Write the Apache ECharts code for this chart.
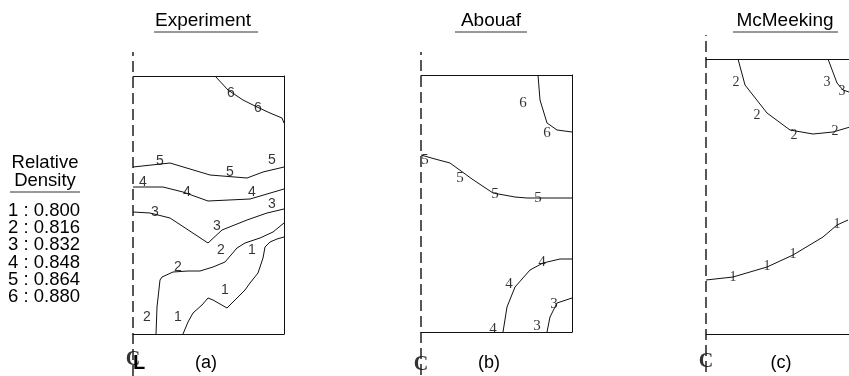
<!DOCTYPE html>
<html>
<head>
<meta charset="utf-8">
<script src="https://cdn.jsdelivr.net/npm/echarts@6/dist/echarts.min.js"></script>
<style>
  html, body { margin: 0; padding: 0; background: #fff; }
  #main { width: 849px; height: 376px; }
</style>
</head>
<body>
<div id="main"></div>
<script>
// legend: contour level -> relative density
const levels = [1, 2, 3, 4, 5, 6];
const densities = ["0.800", "0.816", "0.832", "0.848", "0.864", "0.880"];
const panelTitles = ["Experiment", "Abouaf", "McMeeking"];
const panelTags = ["(a)", "(b)", "(c)"];

// (a) Experiment — x from centre line, y from bottom of compact
const expC1 = [[50,0],[55,12],[60,21],[69,29],[75,36],[80,34],[94,26],[104,36],[112,44],[117,51],[125,61],[130,76],[132,87],[137,92],[144,95],[151,97]];
const expC2 = [[23,0],[24,27],[27,54],[29,57],[40,62],[55,63],[67,63],[80,67],[92,72],[104,86],[112,91],[127,96],[140,102],[151,111]];
const expC3 = [[0,122],[17,121],[37,116],[75,91],[89,104],[114,114],[134,121],[151,125]];
const expC4 = [[0,147],[30,147],[50,142],[75,133],[117,135],[151,145]];
const expC5 = [[0,167],[37,171],[77,159],[114,156],[130,162],[151,167]];
const expC6 = [[82,258],[95,244],[110,234],[124,227],[137,221],[149,216],[151,211]];
const expLabels = [[45,17,1],[92,44,1],[119,84,1],[14,17,2],[45,67,2],[88,84,2],
  [22,122,3],[84,108,3],[139,130,3],[10,152,4],[54,142,4],[119,142,4],
  [27,173,5],[97,162,5],[139,174,5],[98,241,6],[125,226,6]];

// (b) Abouaf
const abC3 = [[126,0],[129,15],[136,29],[151,34]];
const abC4 = [[82,0],[86,25],[94,45],[109,62],[122,69],[139,73],[151,73]];
const abC5 = [[0,177],[14,173],[29,169],[51,153],[72,139],[94,135],[106,134],[151,134]];
const abC6 = [[117,257],[119,232],[126,209],[136,202],[151,200]];
const abLabels = [[116,6,3],[133,28,3],[72,3,4],[88,48,4],[121,70,4],
  [4,172,5],[39,154,5],[74,138,5],[117,134,5],[102,229,6],[126,199,6]];

// (c) McMeeking
const mcC1 = [[0,54],[27,57],[61,67],[87,79],[117,97],[131,109],[142,114]];
const mcC2 = [[32,275],[39,249],[61,221],[84,204],[107,200],[127,202],[144,207]];
const mcC3 = [[122,275],[131,251],[137,244],[146,241]];
const mcLabels = [[27,57,1],[61,68,1],[87,80,1],[131,110,1],
  [30,252,2],[51,219,2],[88,199,2],[129,203,2],[121,252,3],[136,243,3]];

const panels = [
  { grid: { left: 133, top: 76, width: 151, height: 258 }, w: 151, h: 258, right: true,
    lines: [expC1, expC2, expC3, expC4, expC5, expC6], labels: expLabels,
    font: "Liberation Sans", fs: 14, cl: [-42, 282], clY: -26 },
  { grid: { left: 421, top: 75, width: 151, height: 257 }, w: 151, h: 257, right: true,
    lines: [abC3, abC4, abC5, abC6], labels: abLabels,
    font: "Liberation Serif", fs: 15, cl: [-43, 280], clY: -33 },
  { grid: { left: 706, top: 59, width: 143, height: 275 }, w: 143, h: 275, right: false,
    lines: [mcC1, mcC2, mcC3], labels: mcLabels,
    font: "Liberation Serif", fs: 14, cl: [-38, 299], clY: -28 }
];

const ink = "#000";
const edge = { show: true, onZero: false, lineStyle: { color: "#111", width: 1 } };
const bare = { axisTick: { show: false }, axisLabel: { show: false }, splitLine: { show: false } };

const grids = [], xAxes = [], yAxes = [], series = [];
panels.forEach((p, i) => {
  grids.push(p.grid);
  xAxes.push({ gridIndex: i, type: "value", min: 0, max: p.w, position: "bottom", axisLine: edge, ...bare });
  xAxes.push({ gridIndex: i, type: "value", min: 0, max: p.w, position: "top", axisLine: edge, ...bare });
  yAxes.push({ gridIndex: i, type: "value", min: 0, max: p.h, position: "left", axisLine: { show: false }, ...bare });
  yAxes.push({ gridIndex: i, type: "value", min: 0, max: p.h, position: "right",
    axisLine: { ...edge, show: p.right }, ...bare });

  p.lines.forEach(pts => {
    series.push({
      type: "line", xAxisIndex: 2 * i, yAxisIndex: 2 * i, data: pts,
      showSymbol: false, smooth: false, silent: true,
      lineStyle: { color: "#111", width: 1 }
    });
  });

  // centre line (axis of symmetry)
  series.push({
    type: "line", xAxisIndex: 2 * i, yAxisIndex: 2 * i, clip: false,
    data: [[0, p.cl[0]], [0, p.cl[1]]], showSymbol: false, silent: true,
    lineStyle: { color: "#111", width: 1.4, type: [11, 5] }
  });

  series.push({
    type: "scatter", xAxisIndex: 2 * i, yAxisIndex: 2 * i, data: p.labels,
    symbolSize: 1, itemStyle: { color: "rgba(0,0,0,0)" }, silent: true,
    label: {
      show: true, position: "inside", formatter: d => String(d.value[2]),
      color: ink, fontSize: p.fs, fontFamily: p.font
    }
  });

  series.push({
    type: "scatter", xAxisIndex: 2 * i, yAxisIndex: 2 * i, clip: false,
    data: [[0, p.clY]], symbolSize: 1, itemStyle: { color: "rgba(0,0,0,0)" }, silent: true,
    label: {
      show: true, position: "inside", formatter: "C",
      color: ink, fontSize: 20, fontWeight: "bold", fontFamily: "Liberation Serif"
    }
  });
});

const graphic = [];
const txt = (t, x, y, size, align) => ({ type: "text", x: x, y: y,
  style: { text: t, fill: ink, font: size + 'px "Liberation Sans"', textAlign: align || "center",
    verticalAlign: "middle", textVerticalAlign: "middle" } });

const titleCx = [203, 491, 785];
const underline = [[154, 258], [455, 527], [733, 838]];
panelTitles.forEach((t, i) => {
  graphic.push(txt(t, titleCx[i], 21, 19));
  graphic.push({ type: "line", shape: { x1: underline[i][0], y1: 32, x2: underline[i][1], y2: 32 },
    style: { stroke: "#333", lineWidth: 1 } });
});
const tagCx = [206, 489, 781];
panelTags.forEach((t, i) => graphic.push(txt(t, tagCx[i], 363, 18)));
// the "L" of the centre-line mark in (a)
graphic.push({ type: "text", x: 139, y: 363,
  style: { text: "L", fill: ink, font: 'bold 20px "Liberation Sans"', textAlign: "center", verticalAlign: "middle", textVerticalAlign: "middle" } });

graphic.push(txt("Relative", 45, 163, 18.5));
graphic.push(txt("Density", 45, 181, 18.5));
graphic.push({ type: "line", shape: { x1: 10, y1: 192, x2: 80, y2: 192 }, style: { stroke: "#333", lineWidth: 1 } });
levels.forEach((lv, k) => {
  graphic.push(txt(lv + " : " + densities[k], 8, 211 + 17.2 * k, 18.5, "left"));
});

const chart = echarts.init(document.getElementById("main"));
chart.setOption({
  animation: false,
  backgroundColor: "#fff",
  grid: grids,
  xAxis: xAxes,
  yAxis: yAxes,
  series: series,
  graphic: graphic
});
</script>
</body>
</html>
